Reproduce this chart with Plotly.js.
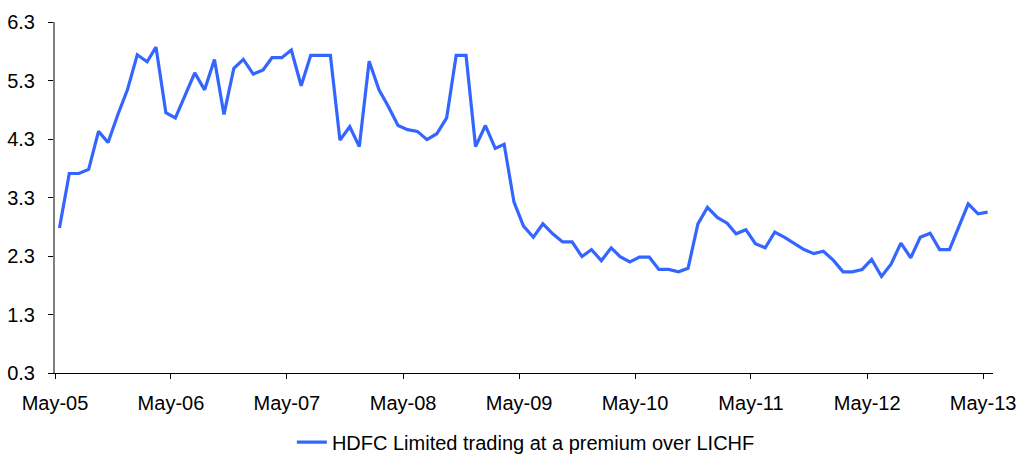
<!DOCTYPE html>
<html>
<head>
<meta charset="utf-8">
<script src="https://cdn.plot.ly/plotly-3.0.1.min.js"></script>
<style>html,body{margin:0;padding:0;background:#fff;}#chart{width:1024px;height:455px;}</style>
</head>
<body>
<div id="chart"></div>
<script>
// Monthly series, May-05 to May-13
const startYear = 2005;
const startMonth = 5; // May
const seriesName = "HDFC Limited trading at a premium over LICHF";
const premium = [
  2.78, 3.71, 3.71, 3.78, 4.43, 4.24, 4.72, 5.14, 5.74, 5.62, 5.87, 4.75,
  4.66, 5.06, 5.43, 5.14, 5.66, 4.72, 5.51, 5.66, 5.41, 5.48, 5.69, 5.69,
  5.82, 5.21, 5.73, 5.73, 5.73, 4.28, 4.51, 4.17, 5.63, 5.14, 4.86, 4.53,
  4.46, 4.43, 4.29, 4.39, 4.66, 5.73, 5.73, 4.17, 4.53, 4.14, 4.21, 3.22,
  2.81, 2.62, 2.85, 2.68, 2.54, 2.54, 2.29, 2.41, 2.22, 2.44, 2.29, 2.20,
  2.28, 2.28, 2.07, 2.07, 2.03, 2.09, 2.85, 3.13, 2.96, 2.86, 2.68, 2.75,
  2.51, 2.44, 2.71, 2.62, 2.52, 2.41, 2.34, 2.38, 2.23, 2.03, 2.03, 2.07,
  2.24, 1.95, 2.16, 2.52, 2.27, 2.62, 2.69, 2.41, 2.41, 2.81, 3.19, 3.02,
  3.05
];
const yTickVals = [0.3, 1.3, 2.3, 3.3, 4.3, 5.3, 6.3];
const yTickText = ["0.3", "1.3", "2.3", "3.3", "4.3", "5.3", "6.3"];
const xTickVals = ["2005-05-01","2006-05-01","2007-05-01","2008-05-01","2009-05-01","2010-05-01","2011-05-01","2012-05-01","2013-05-01"];
const xTickText = ["May-05","May-06","May-07","May-08","May-09","May-10","May-11","May-12","May-13"];

// month dates (mid-month) for each observation
const dates = premium.map((_, i) => {
  const m0 = (startMonth - 1) + i;
  const y = startYear + Math.floor(m0 / 12);
  const m = (m0 % 12) + 1;
  return y + "-" + String(m).padStart(2, "0") + "-15";
});

const font = {family: "Liberation Sans, Arial, sans-serif", size: 20, color: "#000"};

const trace = {
  x: dates, y: premium, type: "scatter", mode: "lines", name: seriesName,
  line: {color: "#3366ff", width: 3.2}, showlegend: true
};

const layout = {
  width: 1024, height: 455,
  margin: {l: 55, r: 31, t: 22, b: 82, autoexpand: false},
  paper_bgcolor: "#fff", plot_bgcolor: "#fff",
  font: font,
  showlegend: true,
  legend: {orientation: "h", x: 0.502, xanchor: "center", y: -0.197, yanchor: "middle",
           font: font, bgcolor: "rgba(0,0,0,0)"},
  xaxis: {
    type: "date", range: ["2005-05-01", "2013-06-01"],
    tickmode: "array", tickvals: xTickVals, ticktext: xTickText,
    showgrid: false, zeroline: false,
    showline: true, linecolor: "#000", linewidth: 1,
    ticks: "outside", ticklen: 5, tickcolor: "#000", tickwidth: 1,
    ticklabelstandoff: 7, tickfont: font, fixedrange: true
  },
  yaxis: {
    range: [0.3, 6.3],
    tickmode: "array", tickvals: yTickVals, ticktext: yTickText,
    showgrid: false, zeroline: false,
    showline: true, linecolor: "#808080", linewidth: 2,
    ticks: "outside", ticklen: 5, tickcolor: "#000", tickwidth: 1,
    ticklabelstandoff: 9, tickfont: font, fixedrange: true
  }
};

Plotly.newPlot("chart", [trace], layout, {staticPlot: true, displayModeBar: false});
</script>
</body>
</html>
